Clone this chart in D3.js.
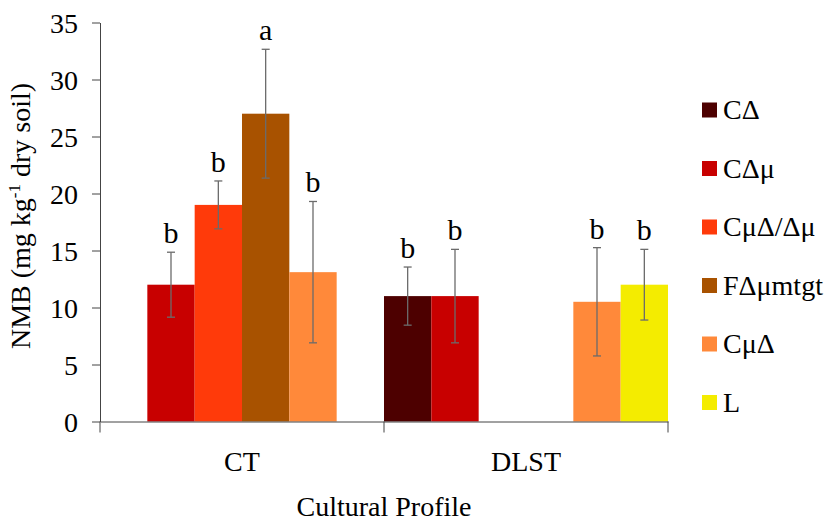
<!DOCTYPE html>
<html>
<head>
<meta charset="utf-8">
<script src="https://cdn.jsdelivr.net/npm/d3@7"></script>
<style>
  body { margin: 0; background: #fff; }
</style>
</head>
<body>
<div id="chart"></div>
<script>
// groups on the x axis
var profiles = ["CT", "DLST"];
// series (legend order)
var treatments = ["C\u0394", "C\u0394\u03bc", "C\u03bc\u0394/\u0394\u03bc", "F\u0394\u03bcmtgt", "C\u03bc\u0394", "L"];
var colors = ["#4d0000", "#c80000", "#ff3a0a", "#a85200", "#ff893a", "#f4ec00"];
// values per treatment: [CT, DLST], null = no bar
var nmbMean = [
    [null, 11.0],
    [12.0, 11.0],
    [19.0, null],
    [27.0, null],
    [13.1, 10.5],
    [null, 12.0]
];
var nmbErr = [
    [null, 2.55],
    [2.85, 4.1],
    [2.1, null],
    [5.65, null],
    [6.2, 4.75],
    [null, 3.1]
];
var letters = [
    [null, "b"],
    ["b", "b"],
    ["b", null],
    ["a", null],
    ["b", "b"],
    [null, "b"]
];
var yTicks = [0, 5, 10, 15, 20, 25, 30, 35];

var FONT = '"Liberation Serif"';
var width = 829, height = 522;
var margin = {top: 22.5, left: 100, right: 161, bottom: 100.5};

var svg = d3.select('#chart').append('svg')
    .attr('width', width)
    .attr('height', height);

var g = svg.append('g').attr('transform', 'translate(' + margin.left + ',' + margin.top + ')');
var w = width - margin.left - margin.right;
var h = height - margin.top - margin.bottom;

var x0 = d3.scaleBand().domain(profiles).range([0, w]).padding(0);
var x1 = d3.scaleBand().domain(d3.range(treatments.length)).range([0, x0.bandwidth()]).padding(0);
var y = d3.scaleLinear().domain([0, 35]).range([h, 0]);

// flatten into bar records
var bars = [];
treatments.forEach(function(t, i) {
    profiles.forEach(function(p, j) {
        if (nmbMean[i][j] !== null) {
            bars.push({s: i, p: p, v: nmbMean[i][j], e: nmbErr[i][j], l: letters[i][j]});
        }
    });
});

// bars
g.selectAll('rect.bar').data(bars).enter()
    .append('rect')
    .attr('class', 'bar')
    .attr('x', function(d) { return x0(d.p) + x1(d.s); })
    .attr('width', x1.bandwidth())
    .attr('y', function(d) { return y(d.v); })
    .attr('height', function(d) { return h - y(d.v); })
    .attr('fill', function(d) { return colors[d.s]; });

// y axis
var yAxis = g.append('g')
    .call(d3.axisLeft(y).tickValues(yTicks).tickSize(8).tickSizeOuter(0).tickPadding(14));
yAxis.select('.domain').attr('stroke', '#444');
yAxis.selectAll('.tick line').attr('stroke', '#444');
yAxis.selectAll('.tick text')
    .style('font-family', FONT)
    .style('font-size', '28px')
    .attr('dy', '0.36em')
    .attr('fill', '#000');

// x axis: line + boundary ticks, group labels centred
var xAxis = g.append('g').attr('transform', 'translate(0,' + h + ')')
    .call(d3.axisBottom(x0).tickSize(0).tickSizeOuter(0).tickPadding(30));
xAxis.select('.domain').attr('stroke', '#444');
xAxis.selectAll('.tick text')
    .style('font-family', FONT)
    .style('font-size', '28px')
    .attr('fill', '#000');
var edges = profiles.map(function(p) { return x0(p); }).concat([w]);
xAxis.selectAll('line.edge').data(edges).enter()
    .append('line')
    .attr('class', 'edge')
    .attr('x1', function(d) { return d; })
    .attr('x2', function(d) { return d; })
    .attr('y1', 0)
    .attr('y2', 11)
    .attr('stroke', '#444');

// error bars
var eb = g.selectAll('g.err').data(bars).enter().append('g').attr('class', 'err');
var cx = function(d) { return x0(d.p) + x1(d.s) + x1.bandwidth() / 2; };
eb.append('line')
    .attr('x1', cx).attr('x2', cx)
    .attr('y1', function(d) { return y(d.v + d.e); })
    .attr('y2', function(d) { return y(d.v - d.e); });
eb.append('line')
    .attr('x1', function(d) { return cx(d) - 4; }).attr('x2', function(d) { return cx(d) + 4; })
    .attr('y1', function(d) { return y(d.v + d.e); })
    .attr('y2', function(d) { return y(d.v + d.e); });
eb.append('line')
    .attr('x1', function(d) { return cx(d) - 4; }).attr('x2', function(d) { return cx(d) + 4; })
    .attr('y1', function(d) { return y(d.v - d.e); })
    .attr('y2', function(d) { return y(d.v - d.e); });
eb.selectAll('line').attr('stroke', '#6b6b6b').attr('stroke-width', 1.3);

// significance letters
g.selectAll('text.letter').data(bars).enter()
    .append('text')
    .attr('class', 'letter')
    .attr('x', cx)
    .attr('y', function(d) { return y(d.v + d.e) - 9; })
    .attr('text-anchor', 'middle')
    .style('font-family', FONT)
    .style('font-size', '30px')
    .text(function(d) { return d.l; });

// axis titles
var yt = svg.append('text')
    .attr('transform', 'translate(30,' + (margin.top + h / 2 - 6) + ') rotate(-90)')
    .attr('text-anchor', 'middle')
    .style('font-family', FONT)
    .style('font-size', '28px');
yt.append('tspan').text('NMB (mg kg');
yt.append('tspan').attr('dy', -10).style('font-size', '17px').text('-1');
yt.append('tspan').attr('dy', 10).text(' dry soil)');

svg.append('text')
    .attr('x', margin.left + w / 2)
    .attr('y', 516)
    .attr('text-anchor', 'middle')
    .style('font-family', FONT)
    .style('font-size', '28px')
    .text('Cultural Profile');

// legend
var legend = svg.append('g').attr('transform', 'translate(702,110)');
var li = legend.selectAll('g').data(treatments).enter().append('g')
    .attr('transform', function(d, i) { return 'translate(0,' + (i * 58.5) + ')'; });
li.append('rect')
    .attr('x', 0).attr('y', -7.5)
    .attr('width', 15).attr('height', 15)
    .attr('fill', function(d, i) { return colors[i]; });
li.append('text')
    .attr('x', 21)
    .attr('y', 9)
    .style('font-family', FONT)
    .style('font-size', '28px')
    .text(function(d) { return d; });
</script>
</body>
</html>
